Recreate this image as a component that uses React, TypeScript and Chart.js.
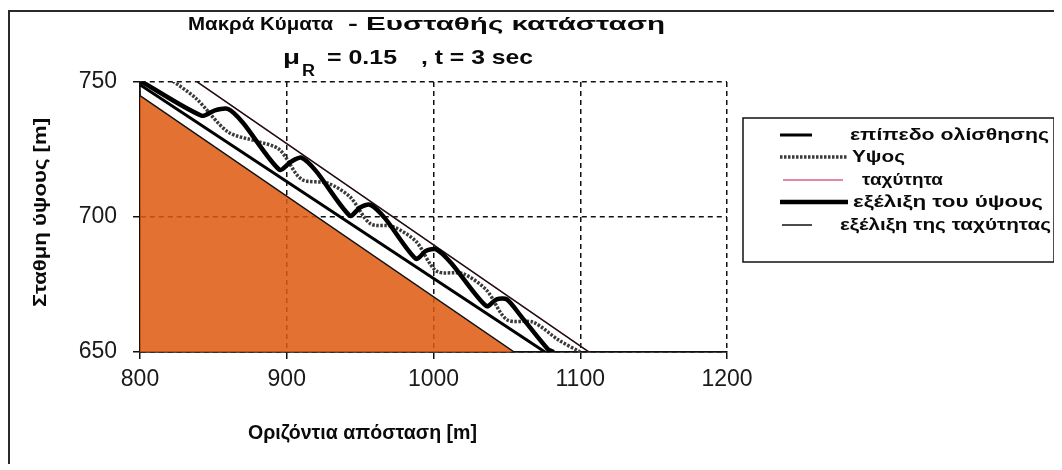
import { useEffect, useRef } from 'react';
import { Chart, registerables } from 'chart.js';

Chart.register(...registerables);

// ---- Data ----
const xTickValues = [800, 900, 1000, 1100, 1200];
const yTickValues = [650, 700, 750];

// orange ground area (its top edge)
const groundX = [800, 1055];
const groundY = [745, 650];

// επίπεδο ολίσθησης
const slipX = [800, 1076];
const slipY = [749, 650];

// Υψος (hatched wavy line)
const heightX = [818, 838, 860, 880, 895, 910, 928, 943, 957, 972, 988, 1002, 1020, 1036, 1050, 1068, 1085, 1100];
const heightY = [752, 744, 731.5, 728, 725, 714, 712.5, 707.5, 697.5, 696.5, 691, 680, 679, 673, 662, 661, 654.5, 650];

// ταχύτητα
const velocityX = [839, 1106];
const velocityY = [750, 650];

// εξέλιξη του ύψους (thick wave)
const heightEvoX = [800, 842, 851, 860, 870, 895, 903, 910, 920, 943, 950, 957, 967, 988, 995, 1002, 1012, 1036, 1043, 1050, 1060, 1078, 1082];
const heightEvoY = [750.5, 737.5, 739.5, 740, 735, 717.5, 720.5, 722, 717, 700.5, 703.5, 704.5, 699.5, 684.5, 687.5, 688, 683, 667, 669.5, 669.5, 663, 651, 650];

// εξέλιξη της ταχύτητας
const velocityEvoX = [839, 1106];
const velocityEvoY = [750, 650];

const labels = [
  'επίπεδο ολίσθησης',
  'Υψος',
  'ταχύτητα',
  'εξέλιξη του ύψους',
  'εξέλιξη της ταχύτητας',
];

const pts = (xs: number[], ys: number[]) => xs.map((x, i) => ({ x, y: ys[i] }));

// canvas origin on the page
const OX = 10;
const OY = 12;
const FONT = '"Liberation Sans", Arial, sans-serif';

function fitText(ctx: CanvasRenderingContext2D, text: string, x0: number, x1: number, base: number, font: string) {
  ctx.save();
  ctx.font = font;
  const w = ctx.measureText(text).width;
  const sx = (x1 - x0) / w;
  ctx.translate(x0 - OX, base - OY);
  ctx.scale(sx, 1);
  ctx.textAlign = 'left';
  ctx.textBaseline = 'alphabetic';
  ctx.fillStyle = '#0a0a0a';
  ctx.fillText(text, 0, 0);
  ctx.restore();
}

const legendRows = [
  { ds: 1, y: 135, s0: 780, s1: 812, t0: 850, t1: 1049 },
  { ds: 2, y: 157, s0: 780, s1: 848, t0: 852, t1: 905 },
  { ds: 3, y: 180, s0: 783, s1: 843, t0: 862, t1: 943 },
  { ds: 4, y: 202, s0: 780, s1: 848, t0: 853, t1: 1043 },
  { ds: 5, y: 225, s0: 782, s1: 812, t0: 840, t1: 1051 },
];

const decorPlugin = {
  id: 'decor',
  afterDraw(chart: any) {
    const ctx: CanvasRenderingContext2D = chart.ctx;
    // Titles
    const tb = `bold 19px ${FONT}`;
    fitText(ctx, 'Μακρά Κύματα', 188, 333, 30, tb);
    fitText(ctx, '- Ευσταθής κατάσταση', 348, 665, 30, tb);
    const t2 = `bold 21px ${FONT}`;
    fitText(ctx, 'μ', 283, 300, 64, t2);
    fitText(ctx, 'R', 302, 315, 76, `bold 16px ${FONT}`);
    fitText(ctx, '= 0.15', 327, 397, 64, t2);
    fitText(ctx, ', t = 3 sec', 421, 533, 64, t2);
    // Axis titles
    fitText(ctx, 'Οριζόντια απόσταση [m]', 248, 477, 439, `bold 20px ${FONT}`);
    ctx.save();
    ctx.translate(46 - OX, 307 - OY);
    ctx.rotate(-Math.PI / 2);
    ctx.font = `bold 18px ${FONT}`;
    const yt = 'Σταθμη ύψους [m]';
    const w = ctx.measureText(yt).width;
    ctx.scale(189 / w, 1);
    ctx.fillStyle = '#0a0a0a';
    ctx.textBaseline = 'alphabetic';
    ctx.fillText(yt, 0, 0);
    ctx.restore();
    // Legend box
    ctx.save();
    ctx.strokeStyle = '#111';
    ctx.lineWidth = 1.5;
    ctx.strokeRect(743 - OX, 118 - OY, 1054 - 743, 262 - 118);
    ctx.restore();
    legendRows.forEach((r) => {
      const ds = chart.data.datasets[r.ds];
      ctx.save();
      ctx.strokeStyle = ds.borderColor;
      ctx.lineWidth = ds.borderWidth;
      ctx.setLineDash(ds.borderDash || []);
      ctx.beginPath();
      ctx.moveTo(r.s0 - OX, r.y - OY);
      ctx.lineTo(r.s1 - OX, r.y - OY);
      ctx.stroke();
      ctx.restore();
      fitText(ctx, ds.label, r.t0, r.t1, r.y + 5, `bold 17px ${FONT}`);
    });
  },
};

export default function App() {
  const ref = useRef<HTMLCanvasElement>(null);
  useEffect(() => {
    if (!ref.current) return;
    const common = { pointRadius: 0, pointHoverRadius: 0, clip: 0, fill: false };
    const gridOpts = {
      color: '#111',
      lineWidth: 1.5,
      drawTicks: true,
      tickLength: 7,
      tickColor: '#111',
      tickWidth: 1.5,
      tickBorderDash: [],
    };
    const chart = new Chart(ref.current, {
      type: 'line',
      data: {
        datasets: [
          {
            ...common,
            label: 'ground',
            data: pts(groundX, groundY),
            borderColor: '#111',
            borderWidth: 1.5,
            backgroundColor: 'rgba(221,90,16,0.86)',
            fill: 'start',
            order: 10,
          },
          {
            ...common,
            label: labels[0],
            data: pts(slipX, slipY),
            borderColor: '#000',
            borderWidth: 3,
            order: 6,
          },
          {
            ...common,
            label: labels[1],
            data: pts(heightX, heightY),
            borderColor: '#3a3a3a',
            borderWidth: 3.5,
            borderDash: [2.5, 1.5],
            tension: 0.3,
            order: 5,
          },
          {
            ...common,
            label: labels[2],
            data: pts(velocityX, velocityY),
            borderColor: '#d9608a',
            borderWidth: 1.5,
            order: 4,
          },
          {
            ...common,
            label: labels[3],
            data: pts(heightEvoX, heightEvoY),
            borderColor: '#000',
            borderWidth: 4.5,
            tension: 0.25,
            order: 1,
          },
          {
            ...common,
            label: labels[4],
            data: pts(velocityEvoX, velocityEvoY),
            borderColor: '#111',
            borderWidth: 1.5,
            order: 2,
          },
        ] as any,
      },
      options: {
        animation: false,
        responsive: true,
        maintainAspectRatio: false,
        devicePixelRatio: 1,
        layout: { padding: { top: 70, right: 327, left: 0, bottom: 0 } },
        plugins: { legend: { display: false }, tooltip: { enabled: false }, title: { display: false } },
        events: [],
        scales: {
          x: {
            type: 'linear',
            min: 800,
            max: 1200,
            afterBuildTicks: (s: any) => {
              s.ticks = xTickValues.map((v) => ({ value: v }));
            },
            afterFit: (s: any) => {
              s.height = 112;
            },
            grid: gridOpts,
            border: { display: true, color: '#111', width: 1.8, dash: [5, 4] },
            ticks: {
              color: '#1a1a1a',
              font: { family: FONT, size: 23 },
              padding: 7,
              maxRotation: 0,
              callback: (v: any) => String(v),
            },
          },
          y: {
            type: 'linear',
            min: 650,
            max: 750,
            afterBuildTicks: (s: any) => {
              s.ticks = yTickValues.map((v) => ({ value: v }));
            },
            afterFit: (s: any) => {
              s.width = 130;
            },
            grid: gridOpts,
            border: { display: true, color: '#111', width: 1.8, dash: [5, 4] },
            ticks: {
              color: '#1a1a1a',
              font: { family: FONT, size: 23 },
              padding: 16,
              callback: (v: any) => String(v),
            },
          },
        },
      } as any,
      plugins: [decorPlugin],
    });
    return () => chart.destroy();
  }, []);

  return (
    <div
      style={{
        position: 'relative',
        top: 2,
        width: 1048,
        height: 456,
        border: '2px solid #2a2a2a',
        boxSizing: 'border-box',
        background: '#fff',
      }}
    >
      <canvas ref={ref} />
    </div>
  );
}
